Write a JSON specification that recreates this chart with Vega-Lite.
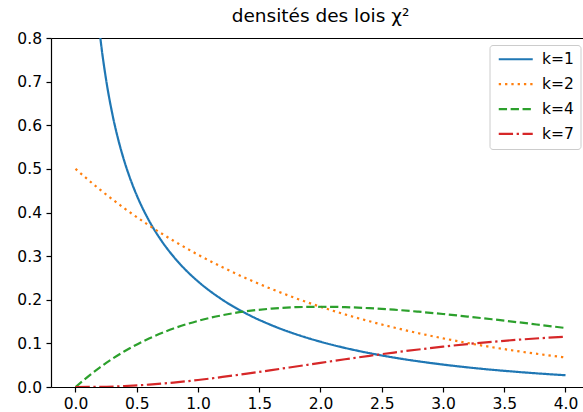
{
  "$schema": "https://vega.github.io/schema/vega-lite/v6.json",
  "autosize": "none",
  "padding": {"left": 51, "top": 38, "right": 0, "bottom": 25},
  "width": 532,
  "height": 349,
  "title": {"text": "densités des lois χ²", "font": "DejaVu Sans", "fontSize": 18.5, "fontWeight": "normal", "color": "black", "anchor": "middle", "dx": 3.5, "offset": 6},
  "config": {
    "view": {"stroke": null},
    "axis": {"labelFont": "DejaVu Sans", "labelFontSize": 15.5, "labelColor": "black", "domainColor": "black", "tickColor": "black", "tickSize": 5, "grid": false, "title": null, "labelPadding": 4.5, "domainWidth": 1.2, "tickWidth": 1.2},
    "legend": {"orient": "none", "legendX": 438.5, "legendY": 7, "fillColor": "white", "strokeColor": "#cccccc", "cornerRadius": 3, "padding": 6.5, "labelFont": "DejaVu Sans", "labelFontSize": 15.5, "labelColor": "black", "symbolType": "M-1,0H5.8", "symbolSize": 100, "symbolStrokeWidth": 2.2, "labelOffset": 30.5, "rowPadding": 7.9, "labelLimit": 200}
  },
  "data": {"values": [
    {"x": 0.1, "y": 1.2000, "k": "k=1"},
    {"x": 0.15, "y": 0.9556, "k": "k=1"},
    {"x": 0.2, "y": 0.8072, "k": "k=1"},
    {"x": 0.25, "y": 0.7041, "k": "k=1"},
    {"x": 0.3, "y": 0.6269, "k": "k=1"},
    {"x": 0.35, "y": 0.5661, "k": "k=1"},
    {"x": 0.4, "y": 0.5164, "k": "k=1"},
    {"x": 0.45, "y": 0.4749, "k": "k=1"},
    {"x": 0.5, "y": 0.4394, "k": "k=1"},
    {"x": 0.6, "y": 0.3815, "k": "k=1"},
    {"x": 0.7, "y": 0.3360, "k": "k=1"},
    {"x": 0.8, "y": 0.2990, "k": "k=1"},
    {"x": 0.9, "y": 0.2681, "k": "k=1"},
    {"x": 1.0, "y": 0.2420, "k": "k=1"},
    {"x": 1.2, "y": 0.1999, "k": "k=1"},
    {"x": 1.4, "y": 0.1674, "k": "k=1"},
    {"x": 1.6, "y": 0.1417, "k": "k=1"},
    {"x": 1.8, "y": 0.1209, "k": "k=1"},
    {"x": 2.0, "y": 0.1038, "k": "k=1"},
    {"x": 2.2, "y": 0.0895, "k": "k=1"},
    {"x": 2.4, "y": 0.0776, "k": "k=1"},
    {"x": 2.6, "y": 0.0674, "k": "k=1"},
    {"x": 2.8, "y": 0.0588, "k": "k=1"},
    {"x": 3.0, "y": 0.0514, "k": "k=1"},
    {"x": 3.2, "y": 0.0450, "k": "k=1"},
    {"x": 3.4, "y": 0.0395, "k": "k=1"},
    {"x": 3.6, "y": 0.0348, "k": "k=1"},
    {"x": 3.8, "y": 0.0306, "k": "k=1"},
    {"x": 4.0, "y": 0.0270, "k": "k=1"},
    {"x": 0.0, "y": 0.5000, "k": "k=2"},
    {"x": 0.2, "y": 0.4524, "k": "k=2"},
    {"x": 0.4, "y": 0.4094, "k": "k=2"},
    {"x": 0.6, "y": 0.3704, "k": "k=2"},
    {"x": 0.8, "y": 0.3352, "k": "k=2"},
    {"x": 1.0, "y": 0.3033, "k": "k=2"},
    {"x": 1.2, "y": 0.2744, "k": "k=2"},
    {"x": 1.4, "y": 0.2483, "k": "k=2"},
    {"x": 1.6, "y": 0.2247, "k": "k=2"},
    {"x": 1.8, "y": 0.2033, "k": "k=2"},
    {"x": 2.0, "y": 0.1839, "k": "k=2"},
    {"x": 2.2, "y": 0.1664, "k": "k=2"},
    {"x": 2.4, "y": 0.1506, "k": "k=2"},
    {"x": 2.6, "y": 0.1363, "k": "k=2"},
    {"x": 2.8, "y": 0.1233, "k": "k=2"},
    {"x": 3.0, "y": 0.1116, "k": "k=2"},
    {"x": 3.2, "y": 0.1009, "k": "k=2"},
    {"x": 3.4, "y": 0.0913, "k": "k=2"},
    {"x": 3.6, "y": 0.0826, "k": "k=2"},
    {"x": 3.8, "y": 0.0748, "k": "k=2"},
    {"x": 4.0, "y": 0.0677, "k": "k=2"},
    {"x": 0.0, "y": 0.0000, "k": "k=4"},
    {"x": 0.2, "y": 0.0452, "k": "k=4"},
    {"x": 0.4, "y": 0.0819, "k": "k=4"},
    {"x": 0.6, "y": 0.1111, "k": "k=4"},
    {"x": 0.8, "y": 0.1341, "k": "k=4"},
    {"x": 1.0, "y": 0.1516, "k": "k=4"},
    {"x": 1.2, "y": 0.1646, "k": "k=4"},
    {"x": 1.4, "y": 0.1738, "k": "k=4"},
    {"x": 1.6, "y": 0.1797, "k": "k=4"},
    {"x": 1.8, "y": 0.1830, "k": "k=4"},
    {"x": 2.0, "y": 0.1839, "k": "k=4"},
    {"x": 2.2, "y": 0.1831, "k": "k=4"},
    {"x": 2.4, "y": 0.1807, "k": "k=4"},
    {"x": 2.6, "y": 0.1772, "k": "k=4"},
    {"x": 2.8, "y": 0.1726, "k": "k=4"},
    {"x": 3.0, "y": 0.1674, "k": "k=4"},
    {"x": 3.2, "y": 0.1615, "k": "k=4"},
    {"x": 3.4, "y": 0.1553, "k": "k=4"},
    {"x": 3.6, "y": 0.1488, "k": "k=4"},
    {"x": 3.8, "y": 0.1421, "k": "k=4"},
    {"x": 4.0, "y": 0.1353, "k": "k=4"},
    {"x": 0.0, "y": 0.0000, "k": "k=7"},
    {"x": 0.2, "y": 0.0004, "k": "k=7"},
    {"x": 0.4, "y": 0.0022, "k": "k=7"},
    {"x": 0.6, "y": 0.0055, "k": "k=7"},
    {"x": 0.8, "y": 0.0102, "k": "k=7"},
    {"x": 1.0, "y": 0.0161, "k": "k=7"},
    {"x": 1.2, "y": 0.0230, "k": "k=7"},
    {"x": 1.4, "y": 0.0306, "k": "k=7"},
    {"x": 1.6, "y": 0.0387, "k": "k=7"},
    {"x": 1.8, "y": 0.0470, "k": "k=7"},
    {"x": 2.0, "y": 0.0553, "k": "k=7"},
    {"x": 2.2, "y": 0.0636, "k": "k=7"},
    {"x": 2.4, "y": 0.0715, "k": "k=7"},
    {"x": 2.6, "y": 0.0790, "k": "k=7"},
    {"x": 2.8, "y": 0.0860, "k": "k=7"},
    {"x": 3.0, "y": 0.0925, "k": "k=7"},
    {"x": 3.2, "y": 0.0984, "k": "k=7"},
    {"x": 3.4, "y": 0.1036, "k": "k=7"},
    {"x": 3.6, "y": 0.1081, "k": "k=7"},
    {"x": 3.8, "y": 0.1120, "k": "k=7"},
    {"x": 4.0, "y": 0.1152, "k": "k=7"}
  ]},
  "layer": [
    {
      "mark": {"type": "line", "clip": true, "strokeWidth": 2.2, "interpolate": "monotone"},
      "encoding": {
        "x": {"field": "x", "type": "quantitative", "scale": {"domain": [-0.2, 4.1429], "nice": false, "zero": false}, "axis": {"orient": "bottom", "values": [0, 0.5, 1, 1.5, 2, 2.5, 3, 3.5, 4], "format": ".1f"}},
        "y": {"field": "y", "type": "quantitative", "scale": {"domain": [0, 0.8], "nice": false}, "axis": {"orient": "left", "values": [0, 0.1, 0.2, 0.3, 0.4, 0.5, 0.6, 0.7, 0.8], "format": ".1f"}},
        "color": {"field": "k", "type": "nominal", "scale": {"domain": ["k=1", "k=2", "k=4", "k=7"], "range": ["#1f77b4", "#ff7f0e", "#2ca02c", "#d62728"]}, "legend": {"title": null}},
        "strokeDash": {"field": "k", "type": "nominal", "scale": {"domain": ["k=1", "k=2", "k=4", "k=7"], "range": [[1, 0], [2.3, 4.0], [8.3, 3.6], [14.3, 3.6, 2.3, 3.6]]}, "legend": {"title": null}}
      }
    },
    {
      "mark": {"type": "line", "strokeOpacity": 0, "clip": true},
      "encoding": {
        "x": {"field": "x", "type": "quantitative", "axis": {"orient": "top", "labels": false, "ticks": false, "domain": true}},
        "y": {"field": "y", "type": "quantitative", "axis": {"orient": "left", "values": [0, 0.1, 0.2, 0.3, 0.4, 0.5, 0.6, 0.7, 0.8], "format": ".1f"}}
      }
    }
  ]
}
